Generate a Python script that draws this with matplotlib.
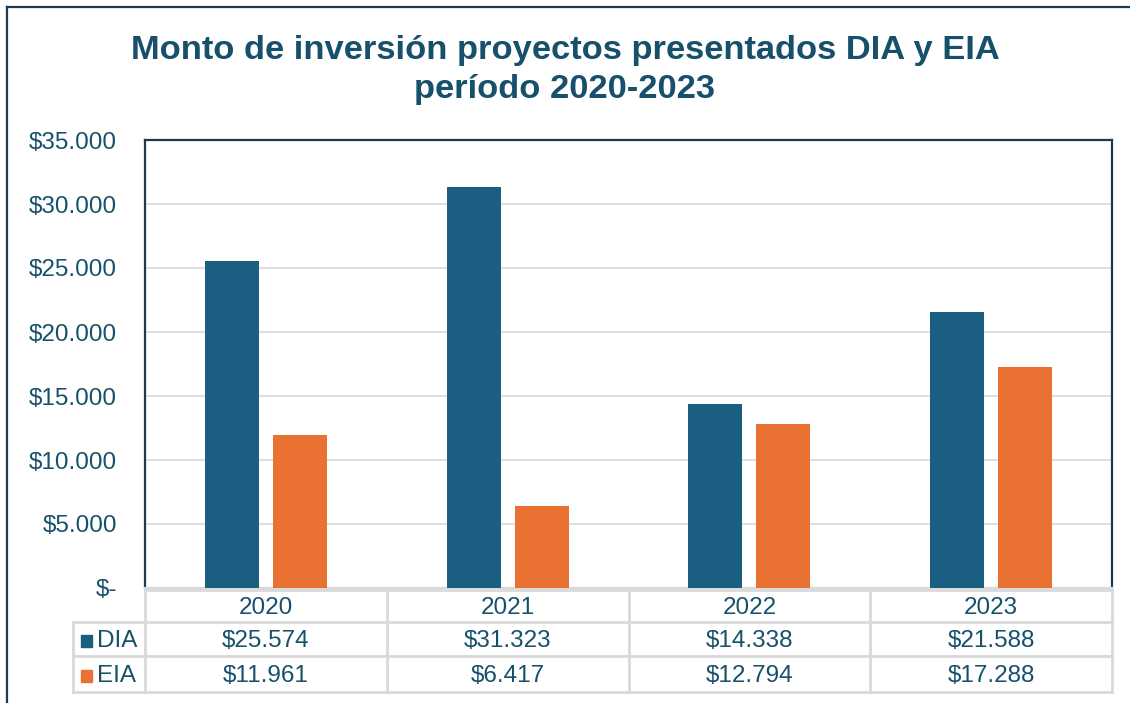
import matplotlib
matplotlib.use("Agg")
import matplotlib.pyplot as plt
from matplotlib.lines import Line2D
from matplotlib.patches import Rectangle
import numpy as np

years = ["2020", "2021", "2022", "2023"]
series_names = ["DIA", "EIA"]
dia = [25574, 31323, 14338, 21588]
eia = [11961, 6417, 12794, 17288]
yticks = [0, 5000, 10000, 15000, 20000, 25000, 30000, 35000]
title = "Monto de inversión proyectos presentados DIA y EIA\nperíodo 2020-2023"

C_DIA = "#1A5F82"
C_EIA = "#E97132"
TXT = "#17506A"
GRID = "#D9D9D9"
BORDER = "#1E3A4F"

plt.rcParams['font.family'] = ['Liberation Sans', 'DejaVu Sans']

W, H = 1130, 703
fig = plt.figure(figsize=(W / 100, H / 100), dpi=100)

def fx(px):
    return px / W

def fy(py):
    return 1 - py / H

L, R, T, B = 145, 1112, 140, 588
ax = fig.add_axes([fx(L), fy(B), fx(R) - fx(L), fy(T) - fy(B)])

def fmt(v):
    if v == 0:
        return "$-"
    return "$" + f"{v:,.0f}".replace(",", ".")

x = np.arange(len(years))
bw = 54 / 242
off = 34 / 242
ax.bar(x - off, dia, width=bw, color=C_DIA, zorder=3)
ax.bar(x + off, eia, width=bw, color=C_EIA, zorder=3)
ax.set_xlim(-0.5, len(years) - 0.5)
ax.set_ylim(0, 35000)
ax.set_yticks(yticks)
ax.set_yticklabels([fmt(v) for v in yticks], color=TXT, fontsize=17.5)
ax.tick_params(axis='y', length=0, pad=20)
ax.set_xticks([])
ax.grid(axis='y', color=GRID, linewidth=1.2, zorder=0)
for s in ["left", "top", "right"]:
    ax.spines[s].set_color(BORDER)
    ax.spines[s].set_linewidth(1.6)
ax.spines["bottom"].set_color(GRID)
ax.spines["bottom"].set_linewidth(1.6)

fig.text(0.5, fy(70), title, ha='center', va='center', fontsize=24.8,
         fontweight='bold', color=TXT, linespacing=1.35)

# outer border
fig.add_artist(Line2D([fx(7), fx(7)], [fy(7), 0], color=BORDER, lw=1.6))
fig.add_artist(Line2D([fx(7), 1], [fy(7), fy(7)], color=BORDER, lw=1.6))

# data table
rows_y = [590, 622, 656, 692]
col_x = [L + i * (R - L) / len(years) for i in range(len(years) + 1)]
hdr_l = 73
tl = dict(color=GRID, lw=2)
fig.add_artist(Line2D([fx(L), fx(R)], [fy(rows_y[0])] * 2, **tl))
for yy in rows_y[1:]:
    fig.add_artist(Line2D([fx(hdr_l), fx(R)], [fy(yy)] * 2, **tl))
for xx in col_x:
    fig.add_artist(Line2D([fx(xx)] * 2, [fy(rows_y[0]), fy(rows_y[-1])], **tl))
fig.add_artist(Line2D([fx(hdr_l)] * 2, [fy(rows_y[1]), fy(rows_y[-1])], **tl))

fs = 17.5
dy = 2
for i, yr in enumerate(years):
    cx = (col_x[i] + col_x[i + 1]) / 2
    fig.text(fx(cx), fy((rows_y[0] + rows_y[1]) / 2 + dy), yr, ha='center', va='center',
             fontsize=fs, color=TXT)
    for r, vals in enumerate([dia, eia]):
        cy = (rows_y[r + 1] + rows_y[r + 2]) / 2 + dy
        fig.text(fx(cx), fy(cy), fmt(vals[i]), ha='center', va='center',
                 fontsize=fs, color=TXT)

for r, (name, col) in enumerate(zip(series_names, [C_DIA, C_EIA])):
    cy = (rows_y[r + 1] + rows_y[r + 2]) / 2 + dy
    fig.add_artist(Rectangle((fx(81), fy(cy + 6)), fx(11), 12 / H, color=col,
                             transform=fig.transFigure))
    fig.text(fx(97), fy(cy), name, ha='left', va='center', fontsize=fs, color=TXT)

fig.savefig("out.png", dpi=100)
